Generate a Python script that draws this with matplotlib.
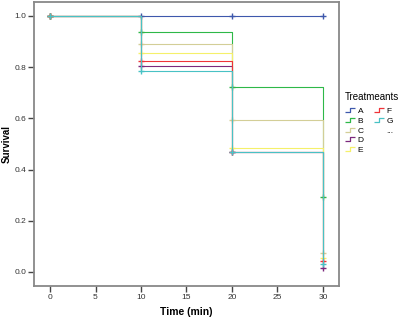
import matplotlib
matplotlib.use("Agg")
import matplotlib.pyplot as plt
from matplotlib.lines import Line2D
from matplotlib.path import Path

plt.rcParams['font.family'] = ['Liberation Sans', 'DejaVu Sans']

times = [0, 10, 20, 30]
groups = ["A", "B", "C", "D", "E", "F", "G"]
surv_A = [1.0, 1.0, 1.0, 1.0]
surv_B = [1.0, 0.938, 0.722, 0.294]
surv_C = [1.0, 0.889, 0.593, 0.075]
surv_D = [1.0, 0.803, 0.467, 0.016]
surv_E = [1.0, 0.857, 0.486, 0.055]
surv_F = [1.0, 0.825, 0.467, 0.043]
surv_G = [1.0, 0.785, 0.467, 0.031]
survs = [surv_A, surv_B, surv_C, surv_D, surv_E, surv_F, surv_G]
colors = ["#3E58AC", "#2EB848", "#D3CE97", "#7C287D", "#F5F06A", "#EF3338", "#48C2C5"]

x_ticks = [0, 5, 10, 15, 20, 25, 30]
y_ticks = [0.0, 0.2, 0.4, 0.6, 0.8, 1.0]

fig = plt.figure(figsize=(4.0, 3.19), dpi=100)
ax = fig.add_axes([0.085, 0.1034, 0.7625, 0.8916])

for s, c in zip(survs, colors):
    ax.step(times, s, where='post', color=c, lw=0.8)
    ax.plot(times, s, linestyle='none', marker='+', color=c, ms=4.5, mew=1.0)

ax.set_xlim(-1.76, 31.76)
ax.set_ylim(-0.055, 1.056)
ax.set_xticks(x_ticks)
ax.set_xticklabels([str(t) for t in x_ticks])
ax.set_yticks(y_ticks)
ax.set_yticklabels([f"{v:.1f}" for v in y_ticks])
ax.tick_params(axis='both', direction='out', length=4, width=1, color='#444444',
               labelsize=6, labelcolor='#333333', pad=1.5)
for sp in ax.spines.values():
    sp.set_color('#888888')
    sp.set_linewidth(1.3)

ax.set_xlabel("Time (min)", fontsize=7.5, fontweight='bold', va='center')
ax.set_ylabel("Survival", fontsize=7, fontweight='bold', va='center',
              rotation_mode='default')
ax.xaxis.set_label_coords(0.5, -0.0914)
ax.yaxis.set_label_coords(-0.0885, 0.5)

step = Path([(-1, -0.5), (0, -0.5), (0, 0.5), (1, 0.5)],
            [Path.MOVETO, Path.LINETO, Path.LINETO, Path.LINETO])
handles = []
labels = []
for i in range(len(groups)):
    handles.append(Line2D([], [], linestyle='none', marker=step, ms=7,
                          mec=colors[i], mfc='none', mew=0.9))
    labels.append(groups[i])
handles.append(Line2D([], [], linestyle='none'))
labels.append("...")
handles += [Line2D([], [], linestyle='none'), Line2D([], [], linestyle='none')]
labels += ["", ""]
leg = fig.legend(handles, labels, ncol=2, loc='upper left',
                 bbox_to_anchor=(0.862, 0.712), frameon=False,
                 title="Treatmeants", title_fontsize=7, fontsize=6,
                 handlelength=1.2, handletextpad=0.35, columnspacing=1.2,
                 labelspacing=0.22, borderpad=0, borderaxespad=0)
leg._legend_box.align = "left"
leg._legend_box.sep = 4

fig.savefig("out.png", dpi=100)
